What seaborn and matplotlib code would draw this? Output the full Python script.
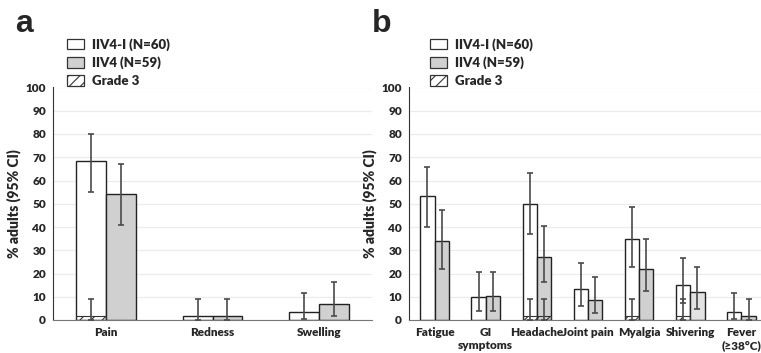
import numpy as np
import pandas as pd
import matplotlib.pyplot as plt
from matplotlib.patches import Patch
import seaborn as sns

#---------------------------------------------------------
groups=['IIV4-I (N=60)', 'IIV4 (N=59)']

# panel a: local reactions
cat_a=['Pain', 'Redness', 'Swelling']
a_iiv4i=[68.3, 1.7, 3.3]
a_iiv4i_lo=[55.0, 0.0, 0.4]
a_iiv4i_hi=[80.0, 8.9, 11.5]
a_iiv4=[54.2, 1.7, 6.8]
a_iiv4_lo=[41.0, 0.0, 1.9]
a_iiv4_hi=[67.2, 9.1, 16.5]
a_g3_iiv4i=[1.7, 0.0, 0.0]
a_g3_iiv4i_hi=[8.9, 0.0, 0.0]
a_g3_iiv4=[0.0, 0.0, 0.0]
a_g3_iiv4_hi=[0.0, 0.0, 0.0]

# panel b: systemic reactions
cat_b=['Fatigue', 'GI\nsymptoms', 'Headache', 'Joint pain', 'Myalgia', 'Shivering', 'Fever\n(≥38°C)']
b_iiv4i=[53.3, 10.0, 50.0, 13.3, 35.0, 15.0, 3.3]
b_iiv4i_lo=[40.0, 3.8, 36.8, 5.9, 23.0, 7.1, 0.4]
b_iiv4i_hi=[66.0, 20.5, 63.2, 24.6, 48.5, 26.6, 11.5]
b_iiv4=[33.9, 10.2, 27.1, 8.5, 22.0, 11.9, 1.7]
b_iiv4_lo=[22.0, 3.8, 16.4, 2.8, 12.3, 4.9, 0.0]
b_iiv4_hi=[47.3, 20.8, 40.3, 18.7, 34.7, 22.9, 9.1]
b_g3_iiv4i=[0.0, 0.0, 1.7, 0.0, 1.7, 1.7, 0.0]
b_g3_iiv4i_hi=[0.0, 0.0, 8.9, 0.0, 8.9, 8.9, 0.0]
b_g3_iiv4=[0.0, 0.0, 1.7, 0.0, 0.0, 0.0, 0.0]
b_g3_iiv4_hi=[0.0, 0.0, 9.1, 0.0, 0.0, 0.0, 0.0]

cmap=['#ffffff', '#d0d0d0']
FONT=['Lato', 'DejaVu Sans']
WT='heavy'

#--------------------------------------------------------
def mk_df(cats, v1, v2):
	return pd.DataFrame({'cat': cats+cats, 'grp': [groups[0]]*len(cats)+[groups[1]]*len(cats), 'pct': list(v1)+list(v2)})

def plt_panel(ax, cats, v1, lo1, hi1, v2, lo2, hi2, g1, g1hi, g2, g2hi):
	n=len(cats)
	df=mk_df(cats, v1, v2)
	sns.barplot(data=df, x='cat', y='pct', hue='grp', hue_order=groups, palette=cmap, width=0.56,
		edgecolor='#222222', linewidth=1.0, errorbar=None, legend=False, ax=ax, zorder=2)
	#grade 3 overlay
	dg=mk_df(cats, g1, g2)
	sns.barplot(data=dg, x='cat', y='pct', hue='grp', hue_order=groups, palette=cmap, width=0.56,
		edgecolor='#222222', linewidth=0.8, errorbar=None, legend=False, ax=ax, zorder=3)
	for c in ax.containers[2:4]:
		for p in c:
			p.set_facecolor('none')
			p.set_hatch('///')
			p.set_edgecolor('#333333')
			if p.get_height()==0:
				p.set_visible(False)
	#error bars
	ebs=[(v1, lo1, hi1), (v2, lo2, hi2), (g1, [0]*n, g1hi), (g2, [0]*n, g2hi)]
	for c, (v, lo, hi) in zip(ax.containers, ebs):
		x=[p.get_x()+p.get_width()/2 for p in c]
		v=np.array(v); lo=np.array(lo); hi=np.array(hi)
		m=hi>0
		ax.errorbar(np.array(x)[m], v[m], yerr=[v[m]-lo[m], hi[m]-v[m]], fmt='none',
			ecolor='#4a4a4a', elinewidth=1.2, capsize=2.5, capthick=1.2, zorder=4)
	#axes
	ax.set_xlim(-0.5, n-0.5)
	ax.set_ylim(0, 100)
	ax.set_yticks(range(0, 101, 10))
	ax.yaxis.grid(True, color='#ececec', linewidth=0.9, zorder=0)
	ax.set_axisbelow(True)
	ax.set_xticks(range(n))
	ax.set_xticklabels(cats, fontsize=8.5, weight=WT, family=FONT, linespacing=1.2)
	ax.set_xticks(np.arange(n+1)-0.5, minor=True)
	ax.tick_params(axis='x', which='major', length=0, pad=5)
	ax.tick_params(axis='x', which='minor', length=3, color='#555555', direction='out')
	ax.tick_params(axis='y', length=3, color='#333333', pad=2)
	for t in ax.get_yticklabels():
		t.set_fontsize(8.5); t.set_weight(WT); t.set_family(FONT)
	ax.set_xlabel('')
	ax.set_ylabel('% adults (95% CI)', fontsize=10, weight=WT, family=FONT, labelpad=3)
	for s in ['top', 'right']:
		ax.spines[s].set_visible(False)
	ax.spines['left'].set_color('#333333')
	ax.spines['bottom'].set_color('#777777')
	#legend
	hnd=[Patch(facecolor='white', edgecolor='#333333', linewidth=0.9),
		Patch(facecolor=cmap[1], edgecolor='#333333', linewidth=0.9),
		Patch(facecolor='white', edgecolor='#333333', hatch='///', linewidth=0.9)]
	return hnd

#########################################################################
sns.set_style('white')
plt.rcParams['font.family']=FONT
plt.rcParams['hatch.color']='#888888'
plt.rcParams['hatch.linewidth']=0.8

fig=plt.figure(figsize=(7.61, 3.53), dpi=100)
ax_a=fig.add_axes([53/761, 1-320/353, 319/761, 232.5/353])
ax_b=fig.add_axes([409/761, 1-320/353, 358/761, 232.5/353])

hnd=plt_panel(ax_a, cat_a, a_iiv4i, a_iiv4i_lo, a_iiv4i_hi, a_iiv4, a_iiv4_lo, a_iiv4_hi,
	a_g3_iiv4i, a_g3_iiv4i_hi, a_g3_iiv4, a_g3_iiv4_hi)
plt_panel(ax_b, cat_b, b_iiv4i, b_iiv4i_lo, b_iiv4i_hi, b_iiv4, b_iiv4_lo, b_iiv4_hi,
	b_g3_iiv4i, b_g3_iiv4i_hi, b_g3_iiv4, b_g3_iiv4_hi)
ax_b.containers[1][5].set_facecolor('#e2e2e2')
# nudge the last label so it stays inside the figure edge
ax_b.get_xticklabels()[-1].set_x(5.95)

labels=groups+['Grade 3']
for x0 in [67/761, 430/761]:
	fig.legend(hnd, labels, loc='upper left', bbox_to_anchor=(x0, 1-38/353), frameon=False,
		prop={'family': FONT, 'weight': WT, 'size': 9.5}, handlelength=1.3, handleheight=0.9,
		handletextpad=0.6, labelspacing=0.45, borderpad=0, borderaxespad=0)

fig.text(15/761, 1-32/353, 'a', fontsize=23, weight='bold', family='Liberation Sans')
fig.text(372/761, 1-32/353, 'b', fontsize=23, weight='bold', family='Liberation Sans')

plt.savefig('out.png', dpi=100)
plt.close()
